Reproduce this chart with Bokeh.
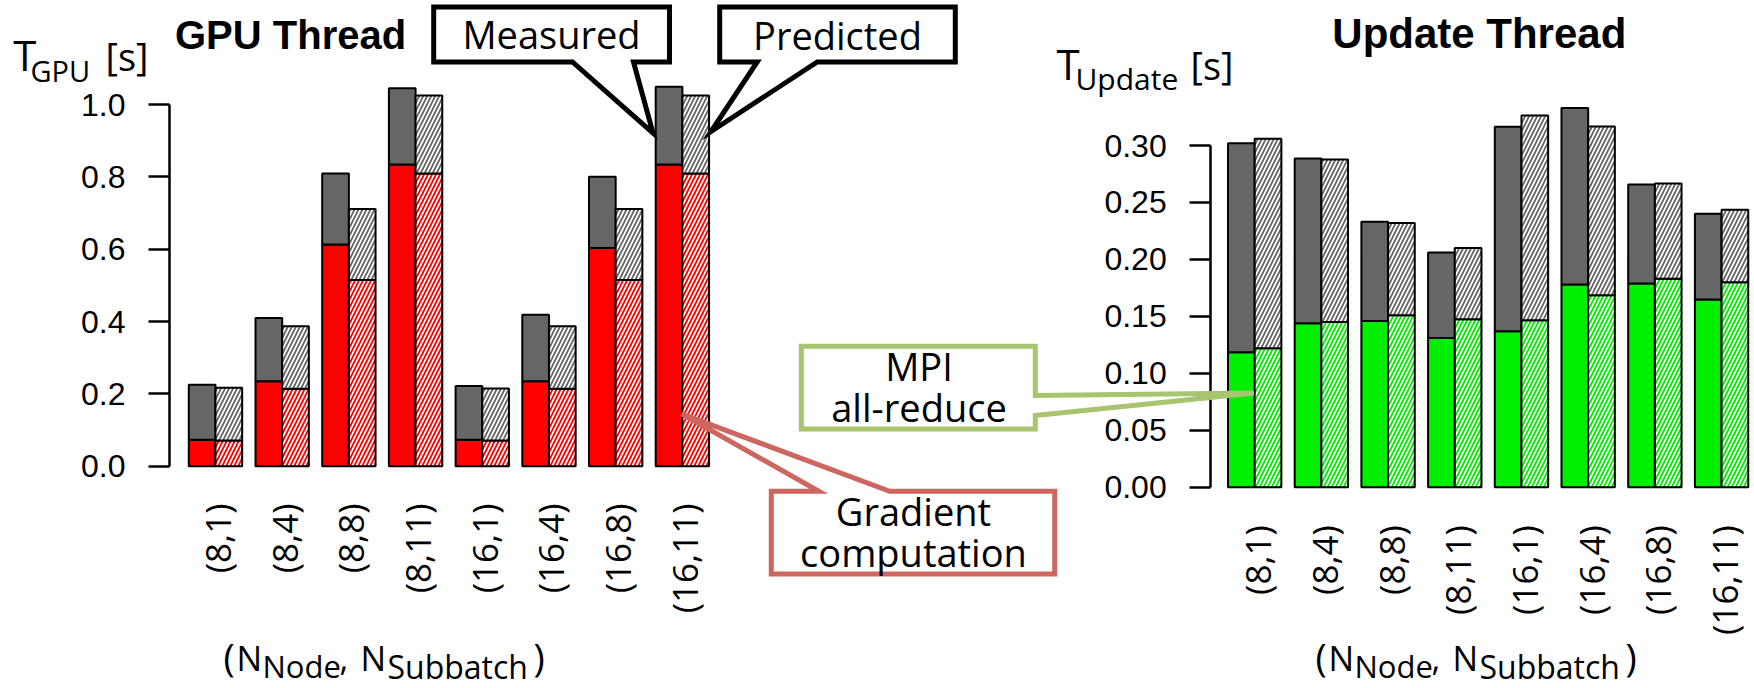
import numpy as np
from bokeh.plotting import figure
from bokeh.models import (Range1d, FixedTicker, PrintfTickFormatter, Label, PolyAnnotation,
                          LinearAxis)
from bokeh.core.properties import value
from bokeh.embed import file_html
from bokeh.resources import INLINE

# ---------------- data ----------------
configs = ["(8,1)", "(8,4)", "(8,8)", "(8,11)", "(16,1)", "(16,4)", "(16,8)", "(16,11)"]

gpu_meas_total = [0.225, 0.410, 0.809, 1.045, 0.222, 0.419, 0.800, 1.049]
gpu_meas_grad = [0.073, 0.235, 0.613, 0.834, 0.073, 0.235, 0.603, 0.834]
gpu_pred_total = [0.217, 0.387, 0.711, 1.025, 0.215, 0.387, 0.711, 1.025]
gpu_pred_grad = [0.071, 0.214, 0.515, 0.809, 0.071, 0.214, 0.515, 0.809]

upd_meas_total = [0.302, 0.2886, 0.233, 0.206, 0.3164, 0.333, 0.2658, 0.240]
upd_meas_mpi = [0.1185, 0.144, 0.146, 0.131, 0.137, 0.178, 0.1788, 0.1648]
upd_pred_total = [0.306, 0.2877, 0.232, 0.210, 0.3263, 0.3167, 0.2666, 0.2435]
upd_pred_mpi = [0.122, 0.145, 0.151, 0.1475, 0.1466, 0.1686, 0.183, 0.180]

gpu_ticks = [0.0, 0.2, 0.4, 0.6, 0.8, 1.0]
upd_ticks = [0.00, 0.05, 0.10, 0.15, 0.20, 0.25, 0.30]

# ---------------- layout (pixels) ----------------
W, H = 1754, 688
BAR_PX = 26.68
G_BAR0 = 188.3      # left edge of first GPU bar
U_BAR0 = 1227.5     # left edge of first Update bar
G_AXIS, U_AXIS = 169.0, 1210.2
G_ZERO, G_PPS = 465.7, 361.7
U_ZERO, U_PPS = 486.7, 1139.0


def g_xy(px, py):
    return 0.5 + (px - G_BAR0) / BAR_PX, (G_ZERO - py) / G_PPS


def u_xy(px, py):
    return 0.5 + (px - U_BAR0) / BAR_PX, (U_ZERO - py) / U_PPS


gx0, gy1 = g_xy(0, 0)
gx1, gy0 = g_xy(W, H)
ux0, uy1 = u_xy(0, 0)
ux1, uy0 = u_xy(W, H)

idx = np.arange(len(configs))
meas_x = 1.0 + 2.5 * idx
pred_x = 2.0 + 2.5 * idx
centers = 1.5 + 2.5 * idx

GRAY = "#666666"

p = figure(width=W, height=H, x_range=Range1d(gx0, gx1), y_range=Range1d(gy0, gy1),
           output_backend="svg", toolbar_location=None, x_axis_location=None,
           y_axis_location="left", min_border=0, min_border_left=0, min_border_right=0,
           min_border_top=0, min_border_bottom=0, outline_line_color=None,
           background_fill_color="white", border_fill_color="white")
p.grid.visible = False
p.extra_x_ranges = {"upd": Range1d(ux0, ux1)}
p.extra_y_ranges = {"upd": Range1d(uy0, uy1)}


def style_axis(ax, ticks, fmt, bounds, loc):
    ax.fixed_location = loc
    ax.ticker = FixedTicker(ticks=ticks)
    ax.formatter = PrintfTickFormatter(format=fmt)
    ax.bounds = bounds
    ax.axis_line_width = 2.5
    ax.major_tick_line_width = 2.5
    ax.major_tick_out = 21
    ax.major_tick_in = 0
    ax.minor_tick_line_color = None
    ax.major_label_standoff = 23
    ax.major_label_text_font = "Liberation Sans"
    ax.major_label_text_font_size = "32px"
    ax.major_label_text_color = "black"
    ax.axis_line_color = "black"
    ax.major_tick_line_color = "black"


def draw_bars(mt, mp, pt, pp, color, **rn):
    p.vbar(x=meas_x, width=1, bottom=0, top=mp, fill_color=color,
           line_color="black", line_width=2, **rn)
    p.vbar(x=meas_x, width=1, bottom=mp, top=mt, fill_color=GRAY,
           line_color="black", line_width=2, **rn)
    p.vbar(x=pred_x, width=1, bottom=0, top=pp, fill_color="white",
           hatch_pattern="/", hatch_color=color, hatch_scale=8, hatch_weight=1.8,
           line_color="black", line_width=2, **rn)
    p.vbar(x=pred_x, width=1, bottom=pp, top=pt, fill_color="white",
           hatch_pattern="/", hatch_color=GRAY, hatch_scale=8, hatch_weight=1.8,
           line_color="black", line_width=2, **rn)


def label(px, baseline, text, size, font="Open Sans", align="left", bold=False):
    k = 0.388 if font == "Open Sans" else 0.35
    x, y = g_xy(px, baseline - k * size)
    p.add_layout(Label(x=x, y=y, text=text, text_font=font, text_font_size=f"{size}px",
                       text_align=align, text_baseline="middle",
                       text_font_style="bold" if bold else "normal", text_color="black"))


def callout(pts, color):
    xs, ys = zip(*[g_xy(a, b) for a, b in pts])
    p.add_layout(PolyAnnotation(xs=list(xs), ys=list(ys), fill_color="white", fill_alpha=1.0,
                                line_color=color, line_alpha=1.0, line_width=5,
                                line_join="miter"))


def xlabel_pieces(x0):
    base_main, base_sub = 671, 678
    label(x0, base_main, "(", 38)
    label(x0 + 13, base_main, "N", 34)
    label(x0 + 39, base_sub, "Node", 31)
    label(x0 + 116, base_main, ",", 34)
    label(x0 + 137, base_main, "N", 34)
    label(x0 + 164, base_sub, "Subbatch", 32)
    label(x0 + 310, base_main, ")", 38)


# ---------------- axes ----------------
style_axis(p.yaxis[0], gpu_ticks, "%.1f", (0, 1.0), g_xy(G_AXIS, 0)[0])
ua = LinearAxis(x_range_name="upd", y_range_name="upd")
style_axis(ua, upd_ticks, "%.2f", (0, 0.30), u_xy(U_AXIS, 0)[0])
p.add_layout(ua, "left")

# ---------------- bars ----------------
draw_bars(gpu_meas_total, gpu_meas_grad, gpu_pred_total, gpu_pred_grad, "#ff0000")
draw_bars(upd_meas_total, upd_meas_mpi, upd_pred_total, upd_pred_mpi, "#00ee00",
          x_range_name="upd", y_range_name="upd")

p.text(x=centers, y=[g_xy(0, 503)[1]] * len(configs), text=configs, angle=np.pi / 2,
       text_align="right", text_baseline="middle", text_font=value("Open Sans"),
       text_font_size="35px", x_offset=2, text_color="black")
p.text(x=centers, y=[u_xy(0, 524.7)[1]] * len(configs), text=configs, angle=np.pi / 2,
       text_align="right", text_baseline="middle", text_font=value("Open Sans"),
       text_font_size="35px", x_offset=3, text_color="black",
       x_range_name="upd", y_range_name="upd")

# ---------------- callouts ----------------
callout([(433.2, 6.5), (669, 6.5), (669, 61.5), (633, 61.5), (652.5, 132.5),
         (572, 61.5), (433.2, 61.5)], "black")
callout([(719.2, 6.5), (954.8, 6.5), (954.8, 61.5), (816.7, 61.5), (710.5, 131),
         (756.7, 61.5), (719.2, 61.5)], "black")
callout([(770.8, 490.8), (818.3, 490.8), (681, 413.3), (889.3, 490.8), (1054.2, 490.8),
         (1054.2, 573.5), (770.8, 573.5)], "#cc665e")
callout([(800.8, 345.8), (1034.8, 345.8), (1034.8, 395), (1253.4, 392.5), (1034.8, 415),
         (1034.8, 428.5), (800.8, 428.5)], "#a9c46e")

# ---------------- texts ----------------
label(174.5, 48.3, "GPU Thread", 40, font="Liberation Sans", bold=True)
label(12.7, 70, "T", 42)
label(30, 81.7, "GPU", 29)
label(105, 70, "[s]", 38)

label(1331.8, 47.5, "Update Thread", 42, font="Liberation Sans", bold=True)
label(1056, 79.3, "T", 42)
label(1075, 90, "Update", 30)
label(1190, 79, "[s]", 38)

label(551, 48.5, "Measured", 38, align="center")
label(837, 49, "Predicted", 38, align="center")
label(913, 525, "Gradient", 38, align="center")
label(913, 566.7, "computation", 38, align="center")
label(918.5, 380, "MPI", 38, align="center")
label(918.5, 421.7, "all-reduce", 38, align="center")

xlabel_pieces(223)
xlabel_pieces(1315)

open("out.html", "w").write(file_html(p, INLINE))
